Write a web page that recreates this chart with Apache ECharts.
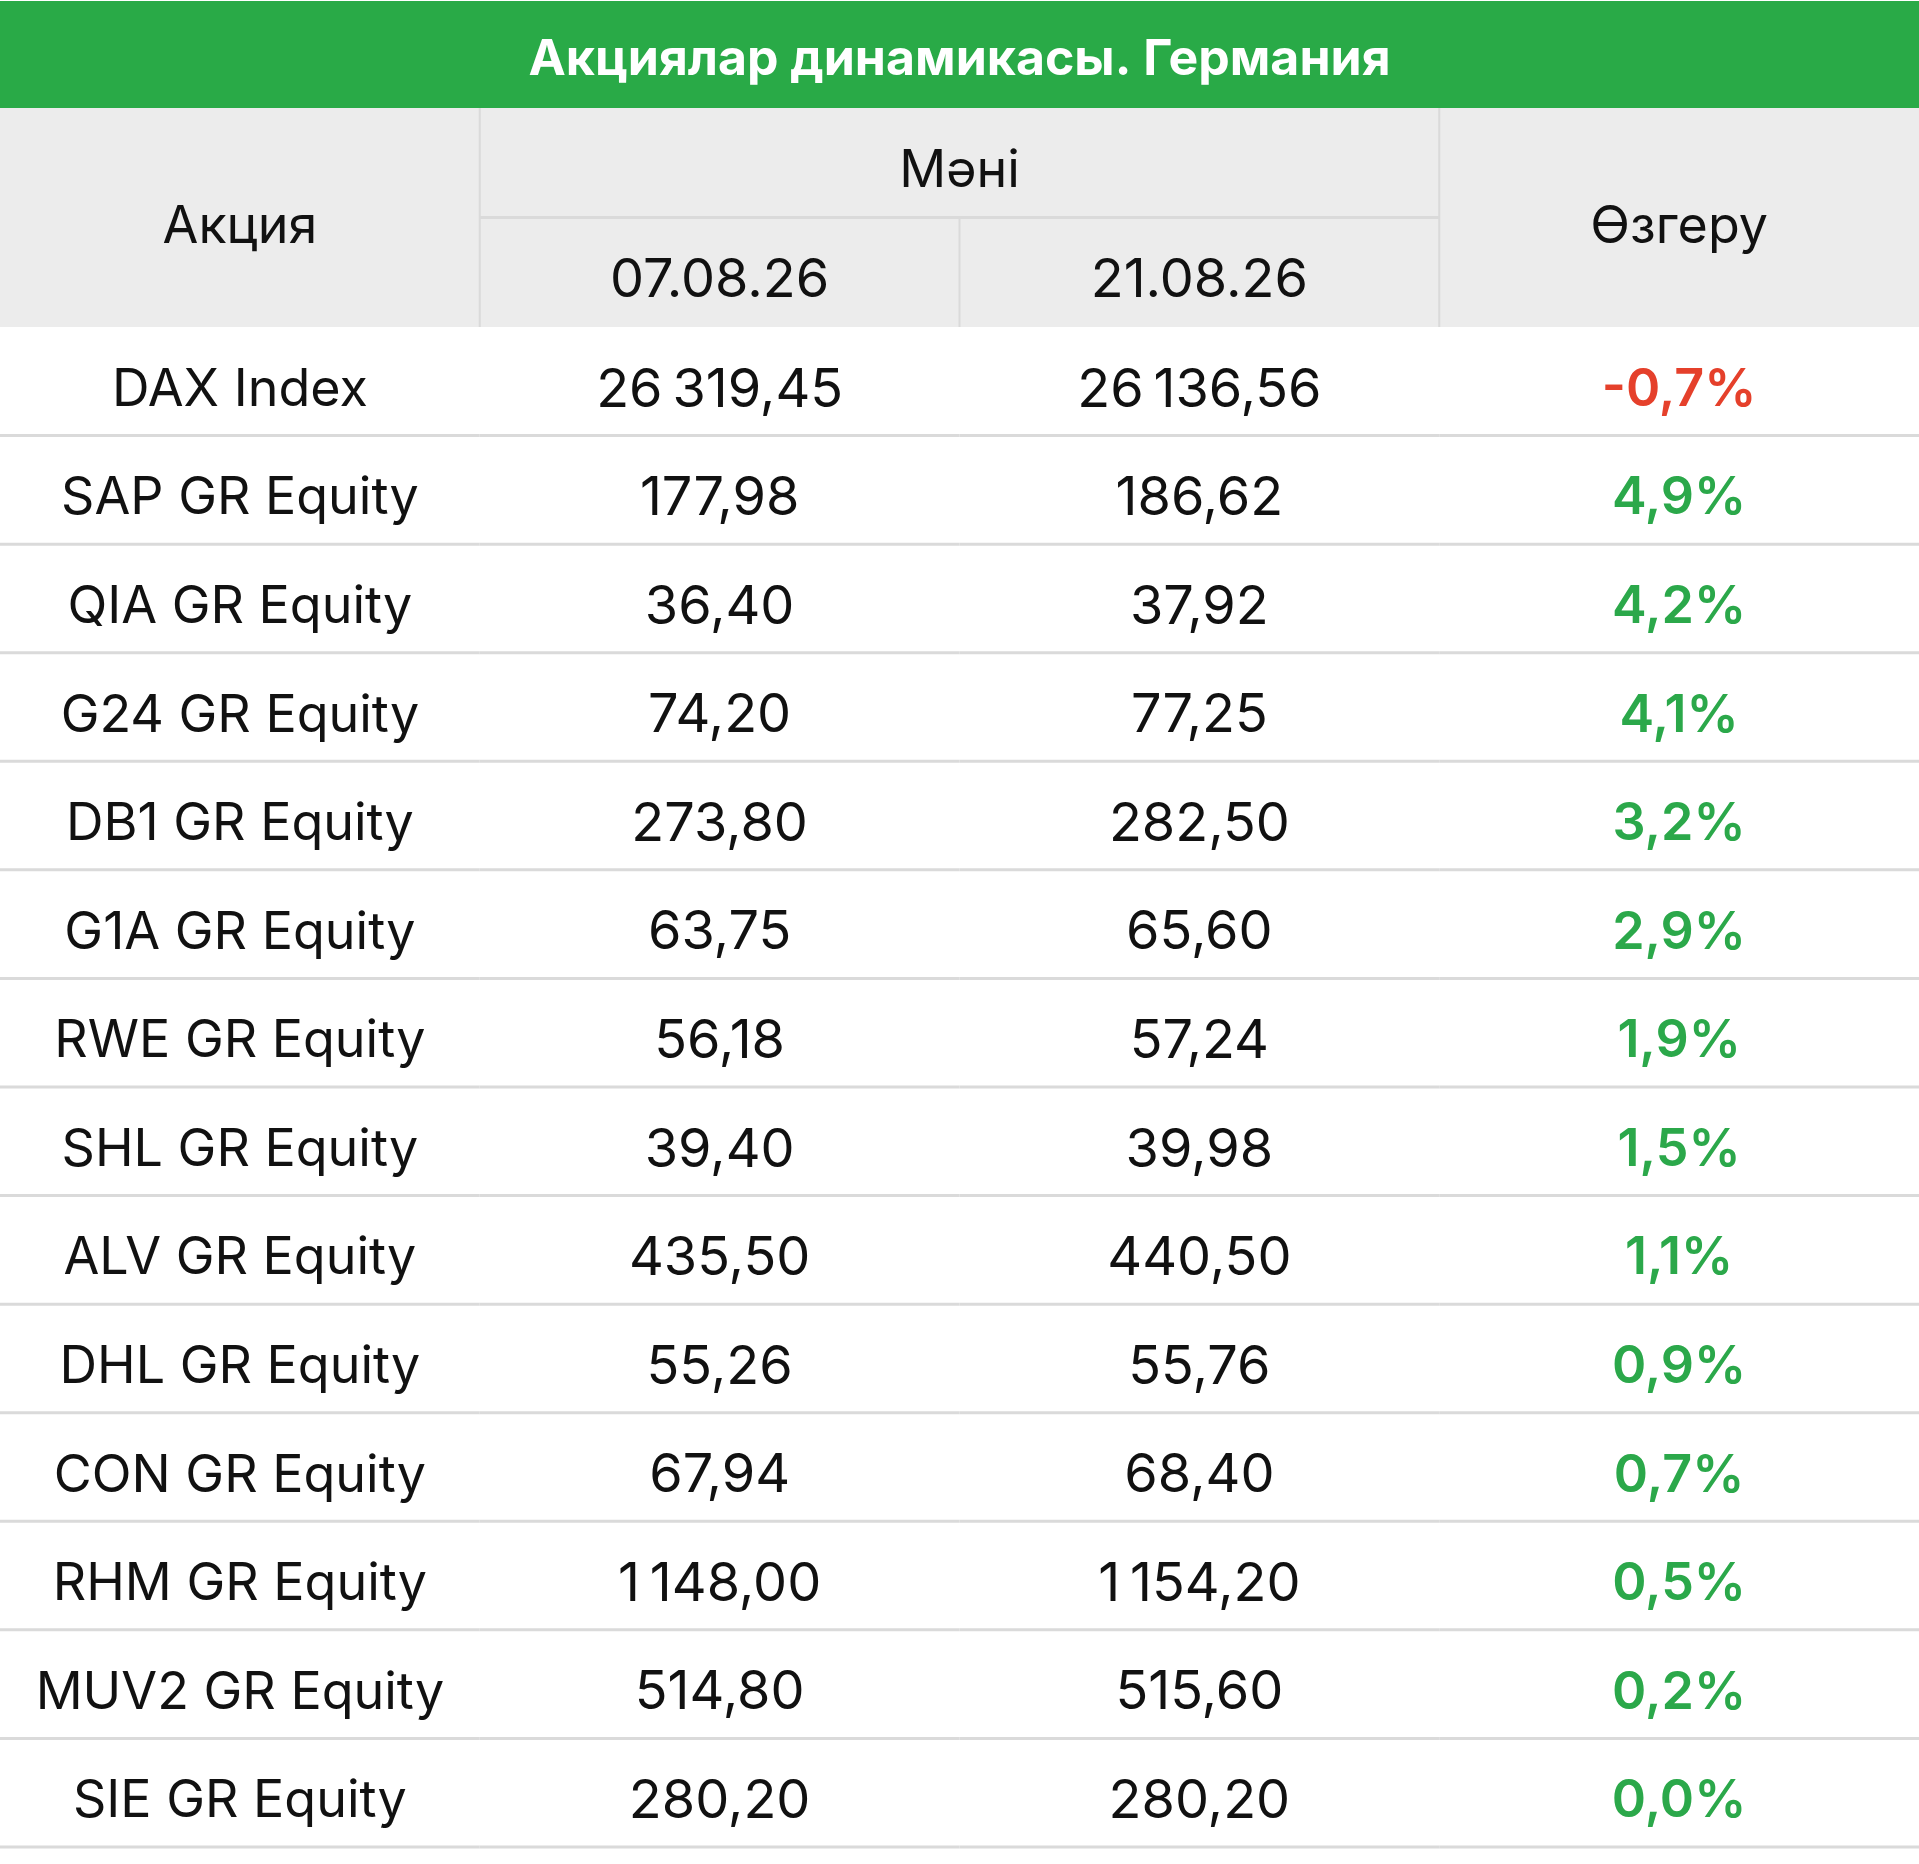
<!DOCTYPE html>
<html>
<head>
<meta charset="utf-8">
<script src="https://cdn.jsdelivr.net/npm/echarts@6/dist/echarts.min.js"></script>
<style>
  html, body { margin: 0; padding: 0; background: #fff; }
  #chart { width: 1919px; height: 1864px; }
</style>
</head>
<body>
<div id="chart"></div>
<script>
// table data
const titleText = 'Акциялар динамикасы. Германия';
const colHeaders = ['Акция', '07.08.26', '21.08.26', 'Өзгеру'];
const groupHeader = 'Мәні';
const tickers = ['DAX Index', 'SAP GR Equity', 'QIA GR Equity', 'G24 GR Equity', 'DB1 GR Equity',
  'G1A GR Equity', 'RWE GR Equity', 'SHL GR Equity', 'ALV GR Equity', 'DHL GR Equity',
  'CON GR Equity', 'RHM GR Equity', 'MUV2 GR Equity', 'SIE GR Equity'];
const valueStart = [26319.45, 177.98, 36.40, 74.20, 273.80, 63.75, 56.18, 39.40, 435.50, 55.26, 67.94, 1148.00, 514.80, 280.20];
const valueEnd = [26136.56, 186.62, 37.92, 77.25, 282.50, 65.60, 57.24, 39.98, 440.50, 55.76, 68.40, 1154.20, 515.60, 280.20];
const changePct = [-0.7, 4.9, 4.2, 4.1, 3.2, 2.9, 1.9, 1.5, 1.1, 0.9, 0.7, 0.5, 0.2, 0.0];

const W = 1919;
const headTop = 108, headMid = 218, headBottom = 327, rowH = 108.57;
const font = 'Inter, Roboto, sans-serif';
const fs = 52;

// 26319.45 -> "26 319,45"
const fmt = (v) => {
  const [i, d] = v.toFixed(2).split('.');
  return i.replace(/\B(?=(\d{3})+(?!\d))/g, '\u2009') + ',' + d;
};
const fmtPct = (v) => v.toFixed(1).replace('.', ',') + '%';

const cells = [];
tickers.forEach((t, r) => {
  cells.push([0, r, t, 'name']);
  cells.push([1, r, fmt(valueStart[r]), 'num']);
  cells.push([2, r, fmt(valueEnd[r]), 'num']);
  cells.push([3, r, fmtPct(changePct[r]), changePct[r] < 0 ? 'neg' : 'pos']);
});

const chart = echarts.init(document.getElementById('chart'));
const colW = W / 4;
const lineCol = '#dadada';
const headText = (txt, x, y, size) => ({
  type: 'text', x: x, y: y,
  style: { text: txt, fill: '#111', font: (size || fs) + 'px ' + font, align: 'center', verticalAlign: 'middle' }
});

chart.setOption({
  animation: false,
  grid: { left: 0, right: 0, top: headBottom, height: rowH * tickers.length },
  xAxis: { type: 'category', data: colHeaders, show: false },
  yAxis: { type: 'category', data: tickers, inverse: true, show: false },
  graphic: [
    { type: 'rect', shape: { x: 0, y: 1, width: W, height: headTop - 1 }, style: { fill: '#29aa47' } },
    { type: 'text', x: W / 2, y: 60, style: { text: titleText, fill: '#fff', font: 'bold 50px ' + font, align: 'center', verticalAlign: 'middle' } },
    { type: 'rect', shape: { x: 0, y: headTop, width: W, height: headBottom - headTop }, style: { fill: '#ececec' } },
    { type: 'rect', shape: { x: colW - 1, y: headTop, width: 2, height: headBottom - headTop }, style: { fill: lineCol } },
    { type: 'rect', shape: { x: colW * 3 - 1, y: headTop, width: 2, height: headBottom - headTop }, style: { fill: lineCol } },
    { type: 'rect', shape: { x: colW * 2 - 1, y: headMid, width: 2, height: headBottom - headMid }, style: { fill: lineCol } },
    { type: 'rect', shape: { x: colW, y: headMid - 2, width: colW * 2, height: 3 }, style: { fill: lineCol } },
    headText(colHeaders[0], colW * 0.5, 227),
    headText(groupHeader, colW * 2, 171),
    headText(colHeaders[1], colW * 1.5, 281, 54),
    headText(colHeaders[2], colW * 2.5, 281, 54),
    headText(colHeaders[3], colW * 3.5, 227)
  ],
  series: [{
    type: 'custom',
    data: cells,
    renderItem: (params, api) => {
      const p = api.coord([api.value(0), api.value(1)]);
      const s = api.size([1, 1]);
      const kind = cells[params.dataIndex][3];
      const text = cells[params.dataIndex][2];
      let fill = '#111', weight = 'normal', size = fs;
      if (kind === 'num') { size = 54; }
      if (kind === 'neg') { fill = '#e5402b'; weight = '600'; }
      if (kind === 'pos') { fill = '#2ba84a'; weight = '600'; }
      return {
        type: 'group',
        children: [
          { type: 'rect', shape: { x: p[0] - s[0] / 2, y: p[1] + s[1] / 2 - 1.5, width: s[0], height: 3 }, style: { fill: lineCol } },
          { type: 'text', x: p[0], y: p[1] + 9, style: { text: text, fill: fill, font: weight + ' ' + size + 'px ' + font, align: 'center', verticalAlign: 'middle' } }
        ]
      };
    }
  }]
});
</script>
</body>
</html>
